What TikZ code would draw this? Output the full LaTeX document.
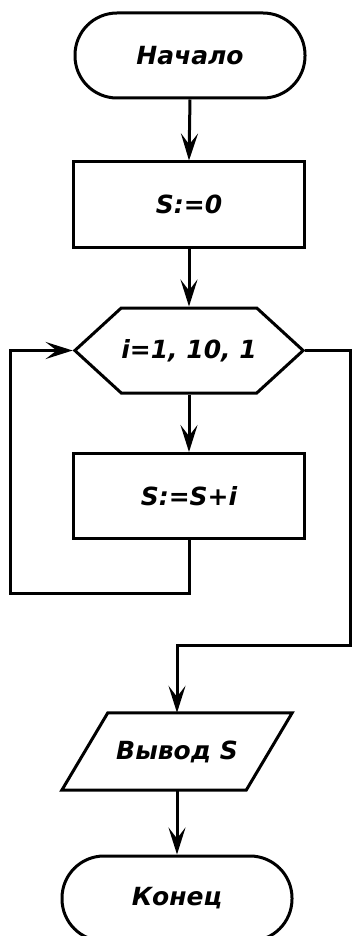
\documentclass[tikz,border=0pt]{standalone}
\usepackage{fontspec}
\setmainfont{DejaVu Sans}
\usetikzlibrary{arrows.meta,positioning,shapes.geometric,shapes.symbols}

\begin{document}
\begin{tikzpicture}[x=1pt, y=-1pt,
  txt/.style={font=\fontsize{25}{30}\selectfont\bfseries\itshape},
  term/.style={rectangle, draw, line width=3pt, rounded corners=42pt,
               minimum width=230pt, minimum height=85pt, txt},
  proc/.style={rectangle, draw, line width=3pt, minimum width=231pt,
               minimum height=85pt, txt},
  loopbox/.style={signal, signal to=west and east, signal pointer angle=85,
                  draw, line width=3pt, minimum width=227pt, minimum height=85pt,
                  inner sep=0pt, txt},
  io/.style={rectangle, minimum width=230pt, minimum height=77pt, inner sep=0pt, txt},
  arr/.style={-{Stealth[length=27pt, width=17pt, inset=11pt]}, line width=3pt},
  line/.style={line width=3pt, line join=miter},
]
  \useasboundingbox (0,0) rectangle (351,936);
  \node[term] (start) at (190,55.5) {Начало};
  \node[proc] (init) at (189,204.5) {S:=0};
  \node[loopbox] (loop) at (189,350.5) {i=1, 10, 1};
  \node[proc] (body) at (189,496) {S:=S+i};
  \node[io] (out) at (177,751.5) {Вывод S};
  \node[term] (end) at (177,898.5) {Конец};
  % parallelogram round the output node
  \draw[line] ([xshift=46pt]out.north west) -- (out.north east)
    -- ([xshift=-46pt]out.south east) -- (out.south west) -- cycle;
  \coordinate (back) at (10,593);
  \coordinate (exit) at (350,645);
  \draw[arr] (start.south) -- (init.north);
  \draw[arr] (init.south) -- (loop.north);
  \draw[arr] (loop.south) -- (body.north);
  \draw[arr] (body.south) |- (back) |- (loop.west);
  \draw[arr] (loop.east) -| (exit) -| (out.north);
  \draw[arr] (out.south) -- (end.north);
\end{tikzpicture}
\end{document}
